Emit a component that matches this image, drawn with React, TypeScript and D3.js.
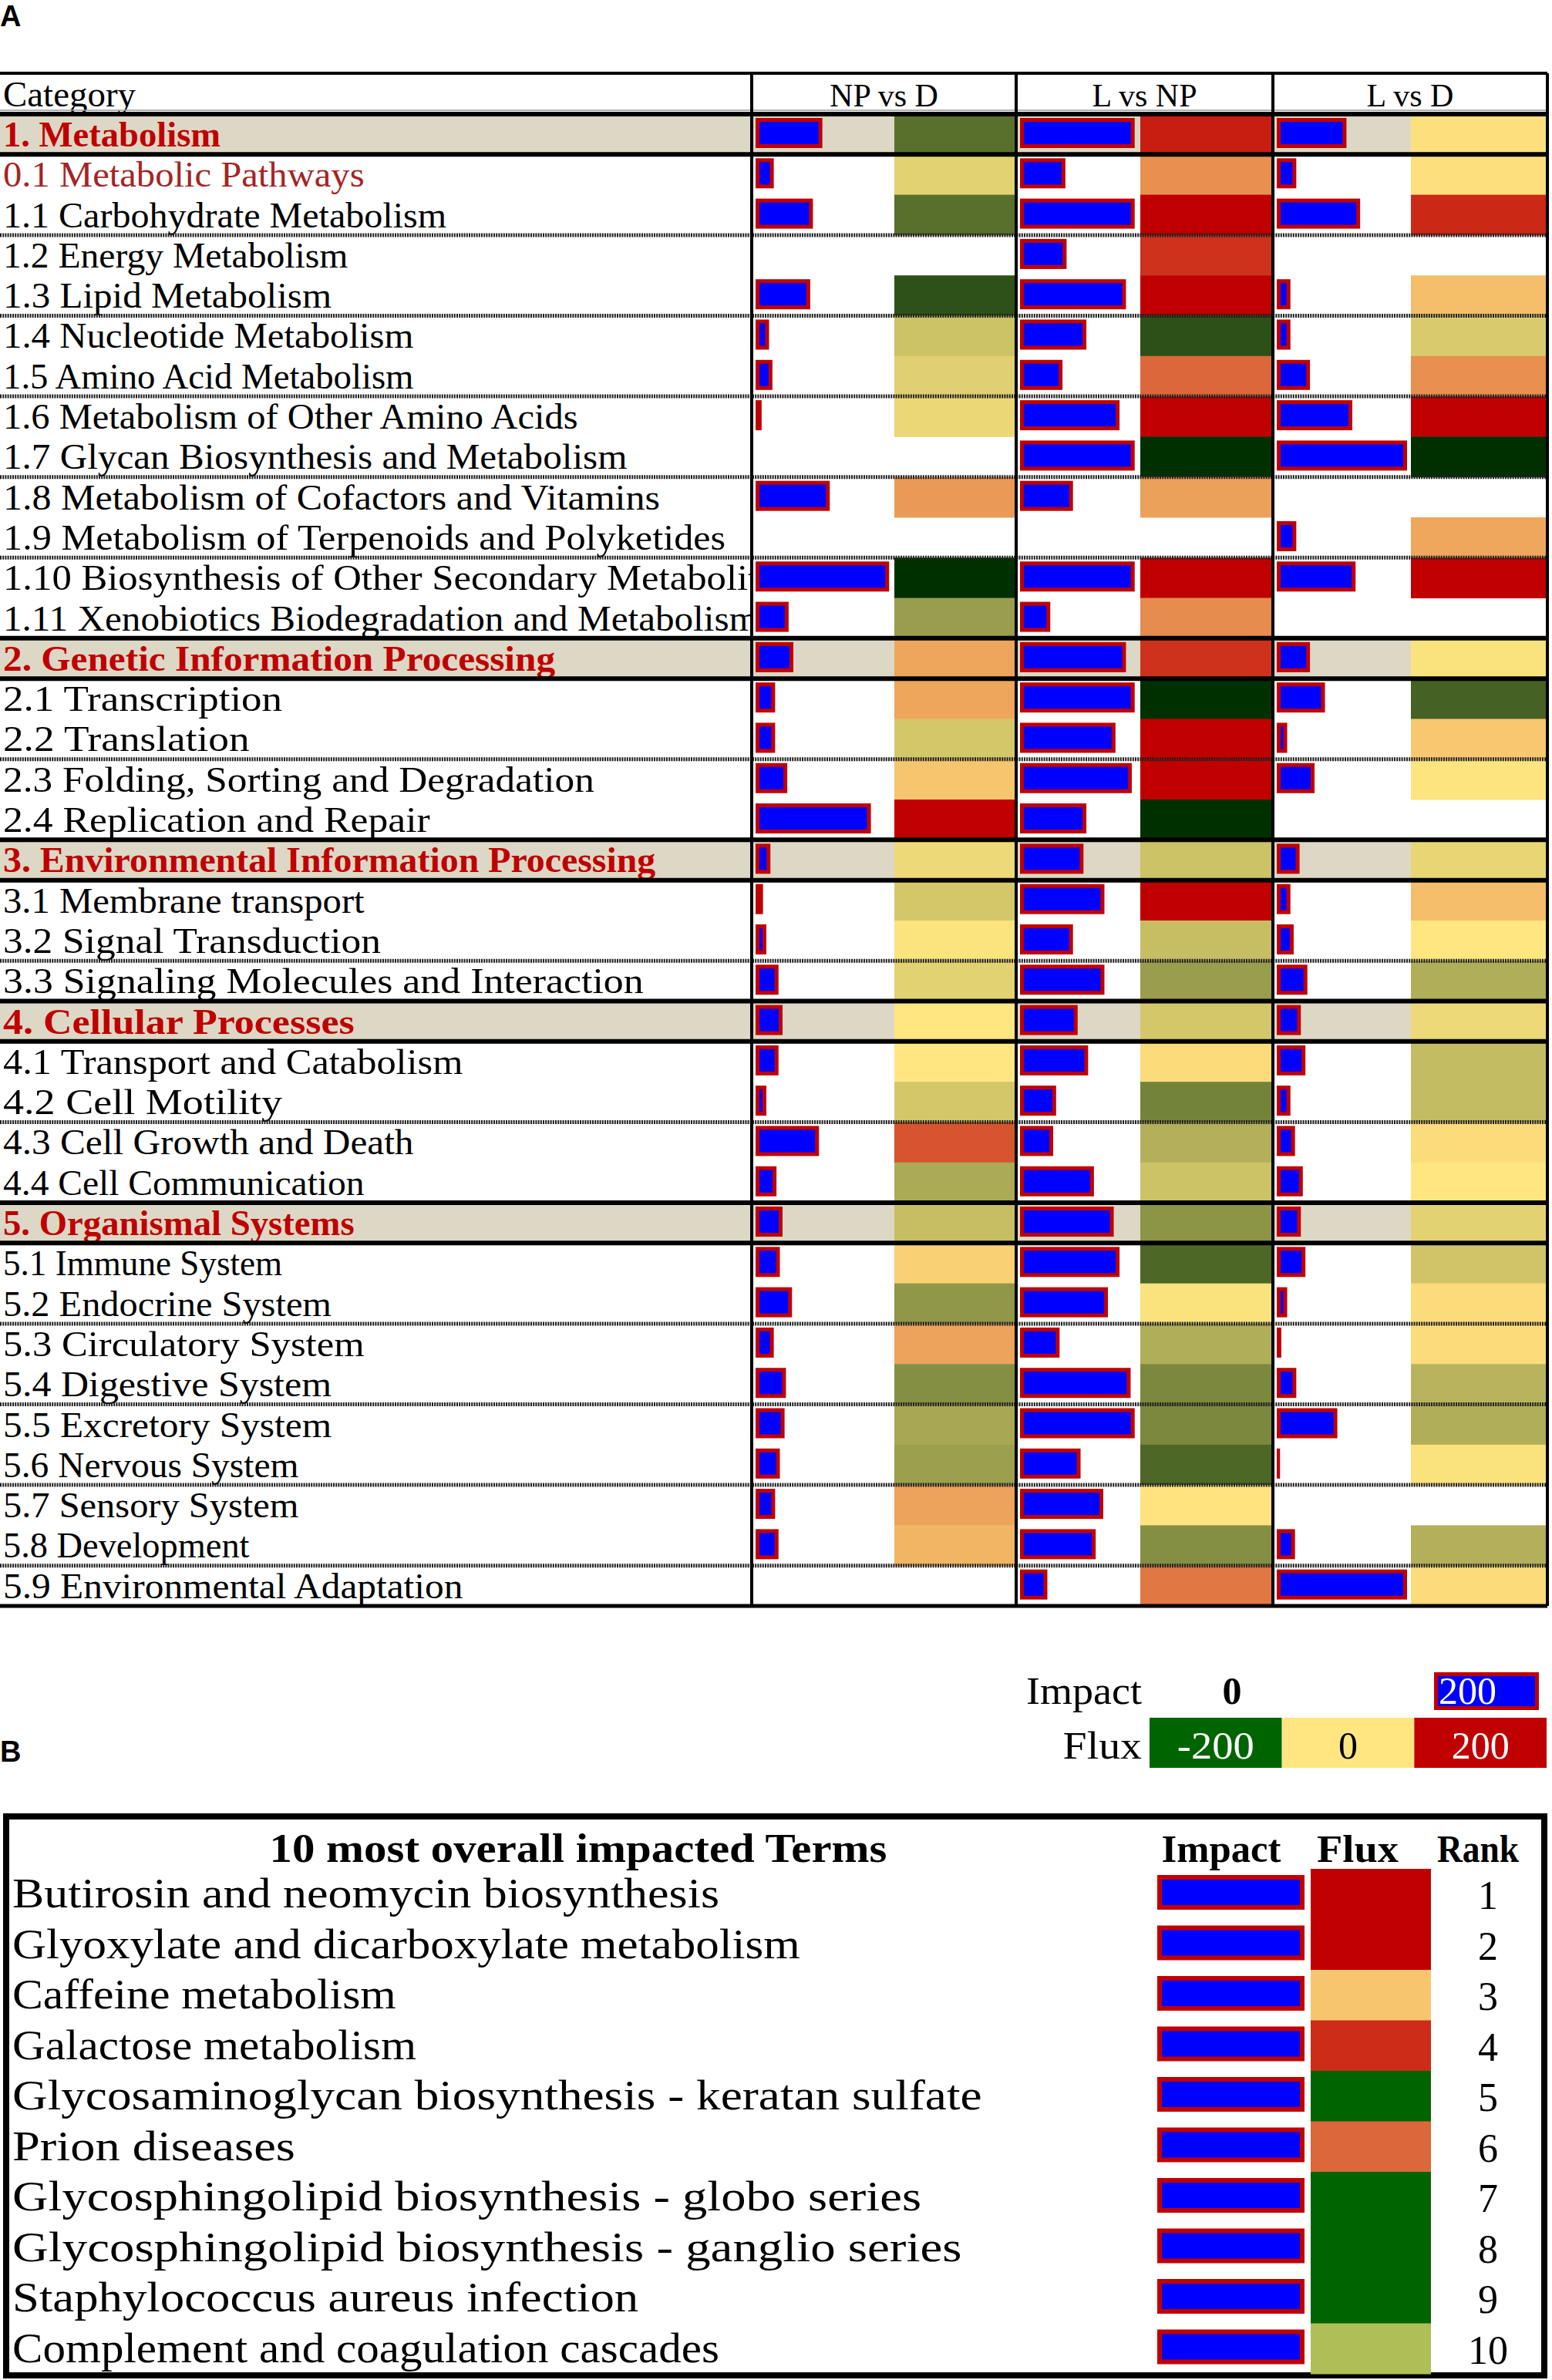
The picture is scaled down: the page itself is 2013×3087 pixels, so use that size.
import React from 'react';
import * as d3 from 'd3';

// ---------------- DATA ----------------
const categories = [
  "1. Metabolism",
  "0.1 Metabolic Pathways",
  "1.1 Carbohydrate Metabolism",
  "1.2 Energy Metabolism",
  "1.3 Lipid Metabolism",
  "1.4 Nucleotide Metabolism",
  "1.5 Amino Acid Metabolism",
  "1.6 Metabolism of Other Amino Acids",
  "1.7 Glycan Biosynthesis and Metabolism",
  "1.8 Metabolism of Cofactors and Vitamins",
  "1.9 Metabolism of Terpenoids and Polyketides",
  "1.10 Biosynthesis of Other Secondary Metabolites",
  "1.11 Xenobiotics Biodegradation and Metabolism",
  "2. Genetic Information Processing",
  "2.1 Transcription",
  "2.2 Translation",
  "2.3 Folding, Sorting and Degradation",
  "2.4 Replication and Repair",
  "3. Environmental Information Processing",
  "3.1 Membrane transport",
  "3.2 Signal Transduction",
  "3.3 Signaling Molecules and Interaction",
  "4. Cellular Processes",
  "4.1 Transport and Catabolism",
  "4.2 Cell Motility",
  "4.3 Cell Growth and Death",
  "4.4 Cell Communication",
  "5. Organismal Systems",
  "5.1 Immune System",
  "5.2 Endocrine System",
  "5.3 Circulatory System",
  "5.4 Digestive System",
  "5.5 Excretory System",
  "5.6 Nervous System",
  "5.7 Sensory System",
  "5.8 Development",
  "5.9 Environmental Adaptation",
];

const comparisons = ["NP vs D", "L vs NP", "L vs D"];

const impactNPvsD = [99, 27, 85, null, 81, 20, 25, 9, null, 110, null, 198, 49,
  56, 29, 29, 47, 171,
  22, 11, 16, 34,
  40, 34, 16, 94, 31,
  40, 36, 54, 27, 45, 43, 36, 29, 34, null];
const fluxNPvsD = [-130, -22, -130, null, -164, -40, -24, -16, null, 66, null, -200, -80,
  56, 56, -34, 28, 200,
  -14, -34, -3, -22,
  0, 0, -34, 127, -66,
  -44, 19, -87, 58, -96, -68, -78, 58, 43, null];

const impactLvsNP = [197, 78, 197, 80, 182, 114, 73, 171, 197, 91, null, 197, 52,
  182, 197, 164, 192, 114,
  109, 145, 91, 145,
  99, 117, 62, 57, 127,
  161, 171, 151, 68, 190, 197, 104, 143, 130, 47];
const fluxLvsNP = [174, 75, 200, 157, 200, -165, 110, 200, -200, 60, null, 200, 78,
  157, -200, 200, 200, -200,
  -40, 200, -44, -80,
  -34, 9, -109, -60, -40,
  -90, -140, -4, -62, -103, -103, -140, 3, -96, 96];

const impactLvsD = [107, 30, 128, null, 21, 21, 51, 116, 200, null, 30, 121, null,
  51, 74, 16, 58, null,
  35, 21, 26, 47,
  37, 44, 21, 28, 40,
  37, 44, 16, 7, 30, 93, 5, null, 28, 200];
const fluxLvsD = [5, 5, 165, null, 35, -30, 75, 200, -200, null, 55, 200, null,
  -4, -146, 26, 2, null,
  -18, 35, 0, -62,
  -14, -46, -46, 10, 0,
  -22, -37, 9, 9, -56, -62, -4, null, -60, 9];

const impactSeries = [impactNPvsD, impactLvsNP, impactLvsD];
const fluxSeries = [fluxNPvsD, fluxLvsNP, fluxLvsD];

const legendFluxValues = [-200, 0, 200];
const legendImpactMax = 200;

const topTerms = [
  "Butirosin and neomycin biosynthesis",
  "Glyoxylate and dicarboxylate metabolism",
  "Caffeine metabolism",
  "Galactose metabolism",
  "Glycosaminoglycan biosynthesis - keratan sulfate",
  "Prion diseases",
  "Glycosphingolipid biosynthesis - globo series",
  "Glycosphingolipid biosynthesis - ganglio series",
  "Staphylococcus aureus infection",
  "Complement and coagulation cascades",
];
const topImpact = [200, 200, 200, 200, 200, 200, 200, 200, 200, 200];
const topFlux = [200, 200, 28, 162, -200, 110, -200, -200, -200, -62];
const topRank = [1, 2, 3, 4, 5, 6, 7, 8, 9, 10];

// ---------------- LAYOUT ----------------
const W = 2013;
const H = 3087;
const SERIF = "'Liberation Serif', 'Times New Roman', serif";
const SANS = "'Liberation Sans', Arial, sans-serif";

const tableTop = 95;
const headerBottom = 148;
const tableBottom = 2083;
const colEdges = [975, 1318, 1651, 2007];
const fluxStarts = [1160, 1479, 1830];
const tableRight = 2007;

const fluxColorA = d3.scaleLinear<string>()
  .domain([-200, 0, 200])
  .range(["#003000", "#ffe680", "#c00000"])
  .interpolate(d3.interpolateRgb)
  .clamp(true);

const fluxColorB = d3.scaleLinear<string>()
  .domain([-200, 0, 200])
  .range(["#006400", "#ffe680", "#c00000"])
  .interpolate(d3.interpolateRgb)
  .clamp(true);

const isSection = (s: string) => /^\d\.\s/.test(s);

function ImpactBar({ x, y, w, h, inset }: { x: number; y: number; w: number; h: number; inset: number }) {
  return (
    <g>
      <rect x={x} y={y} width={Math.max(w, 0)} height={h} fill="#c00000" />
      {w > inset * 2 && (
        <rect x={x + inset} y={y + inset} width={w - inset * 2} height={h - inset * 2} fill="#0000ff" />
      )}
    </g>
  );
}

// Narrow serif text: each character gets a fixed advance (like the SimSun-style original)
function NText(props: any) {
  const { text, adv, ...rest } = props;
  return (
    <text fontFamily={SERIF} {...rest} textLength={text.length * adv} lengthAdjust="spacingAndGlyphs"
      style={{ whiteSpace: 'pre' }}>{text}</text>
  );
}

export default function App() {
  const n = categories.length;
  const yBand = d3.scaleBand<number>().domain(d3.range(n)).range([headerBottom, tableBottom]).padding(0);
  const rowH = yBand.bandwidth();

  const impactScales = comparisons.map((_, ci) =>
    d3.scaleLinear().domain([0, 200]).range([0, fluxStarts[ci] - colEdges[ci] - 10]));

  const dashedAfter: number[] = [];
  let count = 0;
  categories.forEach((c, i) => {
    if (isSection(c)) { count = 0; return; }
    count += 1;
    const next = categories[i + 1];
    if (count % 2 === 0 && next !== undefined && !isSection(next)) dashedAfter.push(i);
  });
  const thickLines = new Set<number>();
  categories.forEach((c, i) => {
    if (isSection(c)) {
      thickLines.add(yBand(i)!);
      thickLines.add(yBand(i)! + rowH);
    }
  });

  const bTop = 2424;
  const bBand = d3.scaleBand<number>().domain(d3.range(topTerms.length)).range([bTop, bTop + 655]).padding(0);
  const bRowH = bBand.bandwidth();
  const bImpact = d3.scaleLinear().domain([0, 200]).range([0, 191]);
  const bImpactX = 1501;
  const bFluxX = 1700;
  const bFluxW = 156;

  const legendImpact = d3.scaleLinear().domain([0, legendImpactMax]).range([1598, 1928]);
  const legendX = d3.scaleBand<number>().domain(legendFluxValues).range([1491, 2006]);

  return (
    <svg width={W} height={H} viewBox={`0 0 ${W} ${H}`}
      style={{ position: 'absolute', left: 0, top: 0, background: '#fff' }}>
      <defs>
        <clipPath id="catclip">
          <rect x={0} y={0} width={colEdges[0] - 2} height={H} />
        </clipPath>
      </defs>
      <rect x={0} y={0} width={W} height={H} fill="#fff" />

      <text x={0} y={34} fontFamily={SANS} fontWeight="bold" fontSize={38}>A</text>

      {/* header */}
      <NText text="Category" adv={21.5} x={4} y={138} fontSize={46} fill="#000" />
      {comparisons.map((c, ci) => (
        <text key={c} x={(colEdges[ci] + colEdges[ci + 1]) / 2} y={138} textAnchor="middle"
          fontFamily={SERIF} fontSize={42}>{c}</text>
      ))}

      {categories.map((c, i) => isSection(c) && (
        <rect key={'bg' + i} x={0} y={yBand(i)} width={tableRight} height={rowH} fill="#ddd8c5" />
      ))}

      {fluxSeries.map((series, ci) => series.map((v, i) => v === null ? null : (
        <rect key={`f${ci}-${i}`} x={fluxStarts[ci]} y={yBand(i)}
          width={colEdges[ci + 1] - fluxStarts[ci]} height={rowH + 0.5} fill={fluxColorA(v)} />
      )))}

      {impactSeries.map((series, ci) => series.map((v, i) => v === null ? null : (
        <ImpactBar key={`b${ci}-${i}`} x={colEdges[ci] + 5} y={yBand(i)! + 5}
          w={impactScales[ci](v)} h={39} inset={5} />
      )))}

      <g clipPath="url(#catclip)">
        {categories.map((c, i) => {
          const sec = isSection(c);
          const color = sec ? "#c00000" : c.startsWith("0.") ? "#a52424" : "#000";
          return (
            <NText key={'t' + i} text={c} adv={sec ? 21.7 : 21.3} x={4} y={yBand(i)! + 42}
              fontSize={46} fontWeight={sec ? 'bold' : 'normal'} fill={color} />
          );
        })}
      </g>

      {dashedAfter.map((i) => (
        <line key={'d' + i} x1={0} x2={tableRight} y1={yBand(i)! + rowH} y2={yBand(i)! + rowH}
          stroke="#222" strokeWidth={5} strokeDasharray="2 1.2" />
      ))}

      <line x1={0} x2={tableRight} y1={tableTop} y2={tableTop} stroke="#000" strokeWidth={4} />
      <line x1={0} x2={tableRight} y1={headerBottom - 5} y2={headerBottom - 5} stroke="#999" strokeWidth={1.5} />
      {Array.from(thickLines).map((y) => (
        <line key={'th' + y} x1={0} x2={tableRight} y1={y} y2={y} stroke="#000" strokeWidth={6} />
      ))}
      <line x1={0} x2={tableRight} y1={tableBottom} y2={tableBottom} stroke="#000" strokeWidth={5} />
      {colEdges.map((x) => (
        <line key={'v' + x} x1={x} x2={x} y1={tableTop} y2={tableBottom} stroke="#000" strokeWidth={4} />
      ))}

      {/* legend */}
      <NText text="Impact" adv={25} x={1481} y={2210} fontSize={50} textAnchor="end" fill="#000" />
      <text x={legendImpact(0)} y={2210} textAnchor="middle" fontFamily={SERIF} fontWeight="bold" fontSize={50}>0</text>
      <ImpactBar x={1860} y={2169} w={136} h={49} inset={5} />
      <NText text={String(legendImpactMax)} adv={25} x={1866} y={2210} fontSize={50} fill="#fff" />

      <NText text="Flux" adv={25.6} x={1481} y={2281} fontSize={50} textAnchor="end" fill="#000" />
      {legendFluxValues.map((v) => (
        <g key={'lf' + v}>
          <rect x={legendX(v)} y={2228} width={legendX.bandwidth()} height={65} fill={fluxColorB(v)} />
          <NText text={String(v)} adv={25} x={legendX(v)! + legendX.bandwidth() / 2} y={2281}
            fontSize={50} textAnchor="middle" fill={v === 0 ? '#000' : '#fff'} />
        </g>
      ))}

      <text x={0} y={2285} fontFamily={SANS} fontWeight="bold" fontSize={38}>B</text>

      <rect x={8} y={2356} width={1995} height={725} fill="none" stroke="#000" strokeWidth={8} />
      <NText text="10 most overall impacted Terms" adv={26.7} x={750} y={2415} fontSize={52}
        fontWeight="bold" textAnchor="middle" fill="#000" />
      <NText text="Impact" adv={25.8} x={1584} y={2415} fontSize={50} fontWeight="bold" textAnchor="middle" fill="#000" />
      <NText text="Flux" adv={26.5} x={1761} y={2415} fontSize={50} fontWeight="bold" textAnchor="middle" fill="#000" />
      <NText text="Rank" adv={26.5} x={1917} y={2415} fontSize={50} fontWeight="bold" textAnchor="middle" fill="#000" />

      {topTerms.map((t, i) => (
        <g key={'bt' + i}>
          <rect x={bFluxX} y={bBand(i)} width={bFluxW} height={bRowH + 0.5} fill={fluxColorB(topFlux[i])} />
          <ImpactBar x={bImpactX} y={bBand(i)! + 8} w={bImpact(topImpact[i])} h={45} inset={6} />
          <NText text={t} adv={26.2} x={16} y={bBand(i)! + 50} fontSize={54} fill="#000" />
          <text x={1930} y={bBand(i)! + 52} textAnchor="middle" fontFamily={SERIF} fontSize={52}>{topRank[i]}</text>
        </g>
      ))}
    </svg>
  );
}
